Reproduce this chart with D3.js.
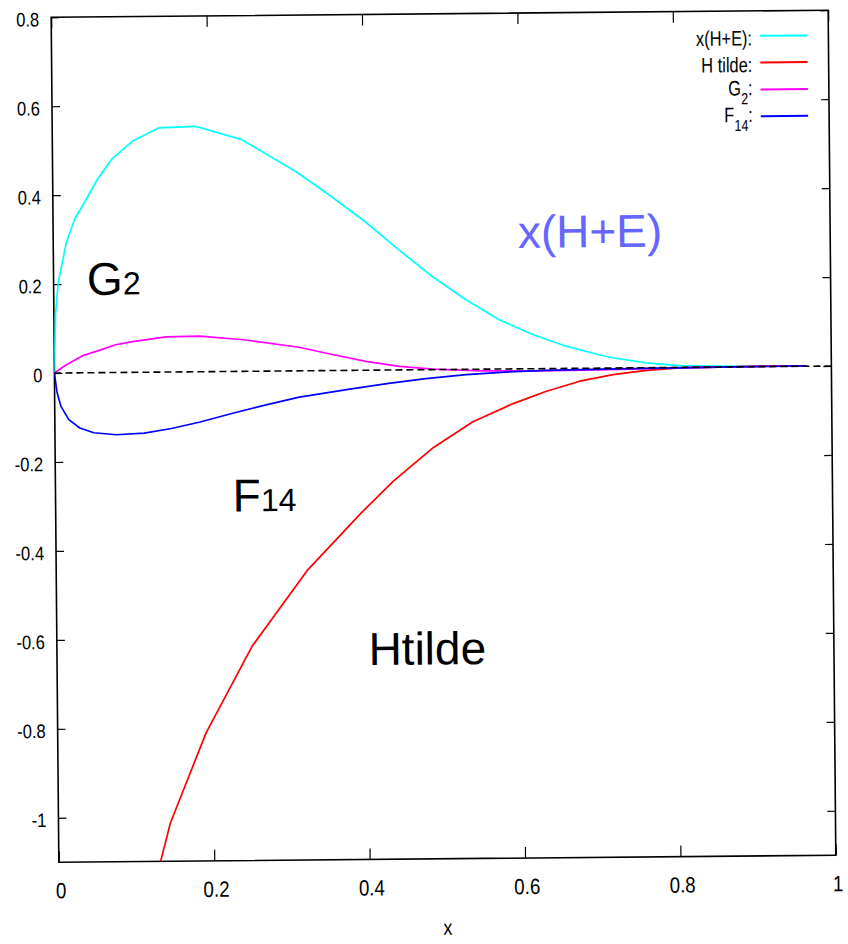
<!DOCTYPE html>
<html>
<head>
<meta charset="utf-8">
<script src="https://cdn.jsdelivr.net/npm/d3@7"></script>
<style>
  body { margin: 0; background: #fff; }
  svg { display: block; font-family: "Liberation Sans", Arial, sans-serif; }
</style>
</head>
<body>
<div id="chart"></div>
<script>
// values
var cyanX = [0, 0.002, 0.006, 0.017, 0.028, 0.041, 0.058, 0.077, 0.104, 0.137, 0.184, 0.244, 0.315, 0.358, 0.401, 0.444, 0.487, 0.530, 0.573, 0.616, 0.659, 0.701, 0.718, 0.762, 0.804, 0.85, 0.9, 0.968];
var cyanY = [0, 0.129, 0.204, 0.294, 0.346, 0.384, 0.436, 0.481, 0.521, 0.549, 0.552, 0.521, 0.446, 0.392, 0.335, 0.271, 0.210, 0.157, 0.111, 0.077, 0.050, 0.030, 0.023, 0.011, 0.004, 0.002, 0.001, 0.001];

var redX = [0.131, 0.144, 0.191, 0.251, 0.324, 0.393, 0.435, 0.487, 0.538, 0.590, 0.633, 0.676, 0.719, 0.762, 0.804, 0.85, 0.9, 0.968];
var redY = [-1.1, -1.014, -0.812, -0.619, -0.447, -0.321, -0.250, -0.175, -0.118, -0.078, -0.051, -0.029, -0.015, -0.006, -0.001, 0, 0.001, 0.001];

var magX = [0, 0.015, 0.036, 0.058, 0.079, 0.101, 0.144, 0.187, 0.244, 0.315, 0.358, 0.401, 0.444, 0.487, 0.55, 0.62, 0.70, 0.80, 0.968];
var magY = [0, 0.018, 0.038, 0.050, 0.0625, 0.069, 0.079, 0.080, 0.071, 0.053, 0.036, 0.020, 0.008, 0.001, -0.004, -0.005, -0.004, -0.001, 0.001];

var blueX = [0, 0.003, 0.008, 0.018, 0.032, 0.05, 0.079, 0.115, 0.15, 0.187, 0.229, 0.272, 0.315, 0.38, 0.43, 0.478, 0.53, 0.58, 0.633, 0.72, 0.80, 0.968];
var blueY = [0, -0.042, -0.075, -0.105, -0.124, -0.135, -0.140, -0.137, -0.127, -0.113, -0.094, -0.076, -0.059, -0.042, -0.030, -0.020, -0.012, -0.007, -0.004, -0.002, -0.001, 0.001];

var xTicks = [0, 0.2, 0.4, 0.6, 0.8, 1];
var yTicks = [0.8, 0.6, 0.4, 0.2, 0, -0.2, -0.4, -0.6, -0.8, -1];

var legendMain = ["x(H+E)", "H tilde", "G", "F"];
var legendSub = ["", "", "2", "14"];
var colors = ["#00ffff", "#ff0000", "#ff00ff", "#0000ff"];

var labelMain = ["G", "F", "Htilde", "x(H+E)"];
var labelSub = ["2", "14", "", ""];
var labelX = [0.043, 0.228, 0.401, 0.598];
var labelY = [0.175, -0.315, -0.663, 0.272];
var labelColor = ["#000", "#000", "#000", "#6666ff"];

var W = 848, H = 944;
var margin = {top: 13.75, right: 16, bottom: 85.25, left: 55};
var width = W - margin.left - margin.right;
var height = H - margin.top - margin.bottom;
var squeeze = 0.85;

var svg = d3.select("#chart").append("svg")
    .attr("width", W)
    .attr("height", H);

svg.append("rect").attr("width", W).attr("height", H).attr("fill", "#fff");

// the whole picture sits slightly tilted
var root = svg.append("g")
    .attr("transform", "rotate(-0.52," + (margin.left + width / 2) + "," + (margin.top + height / 2) + ")");

var g = root.append("g")
    .attr("transform", "translate(" + margin.left + "," + margin.top + ")");

var x = d3.scaleLinear().domain([0, 1]).range([0, width]);
var y = d3.scaleLinear().domain([-1.1, 0.8]).range([height, 0]);

g.append("clipPath").attr("id", "plotclip")
    .append("rect").attr("width", width).attr("height", height);

// ticks on all four sides, pointing inward
g.append("g").call(d3.axisBottom(x).tickValues(xTicks).tickSize(-11).tickFormat(""))
    .attr("transform", "translate(0," + height + ")");
g.append("g").call(d3.axisTop(x).tickValues(xTicks).tickSize(-11).tickFormat(""));
g.append("g").call(d3.axisLeft(y).tickValues(yTicks).tickSize(-8).tickFormat(""));
g.append("g").call(d3.axisRight(y).tickValues(yTicks).tickSize(-8).tickFormat(""))
    .attr("transform", "translate(" + width + ",0)");
g.selectAll(".domain").remove();
g.selectAll(".tick line").attr("stroke", "#000").attr("stroke-width", 1.2);

g.append("rect")
    .attr("width", width).attr("height", height)
    .attr("fill", "none").attr("stroke", "#000").attr("stroke-width", 1.6);

// tick labels
g.selectAll(".ylab").data(yTicks).enter().append("text")
    .attr("class", "ylab")
    .attr("transform", function(d){ return "translate(-12," + (y(d) + 9) + ") scale(" + squeeze + ",1)"; })
    .attr("text-anchor", "end")
    .attr("font-size", 19.5)
    .text(function(d){ return String(d); });

g.selectAll(".xlab").data(xTicks).enter().append("text")
    .attr("class", "xlab")
    .attr("transform", function(d){ return "translate(" + (x(d) + 2) + "," + (height + 36) + ") scale(" + squeeze + ",1)"; })
    .attr("text-anchor", "middle")
    .attr("font-size", 22)
    .text(function(d){ return String(d); });

g.append("text")
    .attr("transform", "translate(" + (width / 2) + "," + (height + 76) + ") scale(" + squeeze + ",1)")
    .attr("text-anchor", "middle")
    .attr("font-size", 21)
    .text("x");

// curves
var series = [
    {xs: cyanX, ys: cyanY},
    {xs: redX, ys: redY},
    {xs: magX, ys: magY},
    {xs: blueX, ys: blueY}
];

var line = d3.line()
    .x(function(d){ return x(d[0]); })
    .y(function(d){ return y(d[1]); });

var curves = g.append("g").attr("clip-path", "url(#plotclip)");

series.forEach(function(s, i){
    curves.append("path")
        .datum(d3.zip(s.xs, s.ys))
        .attr("d", line)
        .attr("fill", "none")
        .attr("stroke", colors[i])
        .attr("stroke-width", 1.7)
        .attr("stroke-linejoin", "round");
});

// dashed zero line
curves.append("path")
    .datum([[0, 0], [1, 0]])
    .attr("d", line)
    .attr("fill", "none")
    .attr("stroke", "#000")
    .attr("stroke-width", 1.6)
    .attr("stroke-dasharray", "7,4");

// legend
var legendRowY = [25, 51.6, 78.6, 105.3];
legendMain.forEach(function(name, i){
    var ly = legendRowY[i];
    var hasSub = legendSub[i] !== "";
    var t = g.append("text")
        .attr("transform", "translate(" + x(0.9017) + "," + (ly + (hasSub ? 5.7 : 9.5)) + ") scale(0.78,1)")
        .attr("text-anchor", "end")
        .attr("font-size", 21);
    t.append("tspan").text(name);
    if (hasSub) {
        t.append("tspan").attr("font-size", 16).attr("dy", 9).text(legendSub[i]);
        t.append("tspan").attr("dy", -9).text(":");
    } else {
        t.append("tspan").text(":");
    }
    g.append("line")
        .attr("x1", x(0.912)).attr("x2", x(0.973))
        .attr("y1", ly).attr("y2", ly)
        .attr("stroke", colors[i])
        .attr("stroke-width", 2);
});

// labels inside the plot
labelMain.forEach(function(name, i){
    var t = g.append("text")
        .attr("x", x(labelX[i]))
        .attr("y", y(labelY[i]))
        .attr("font-size", 46)
        .attr("fill", labelColor[i]);
    t.append("tspan").text(name);
    if (labelSub[i] !== "") {
        t.append("tspan").attr("font-size", 32).text(labelSub[i]);
    }
});
</script>
</body>
</html>
